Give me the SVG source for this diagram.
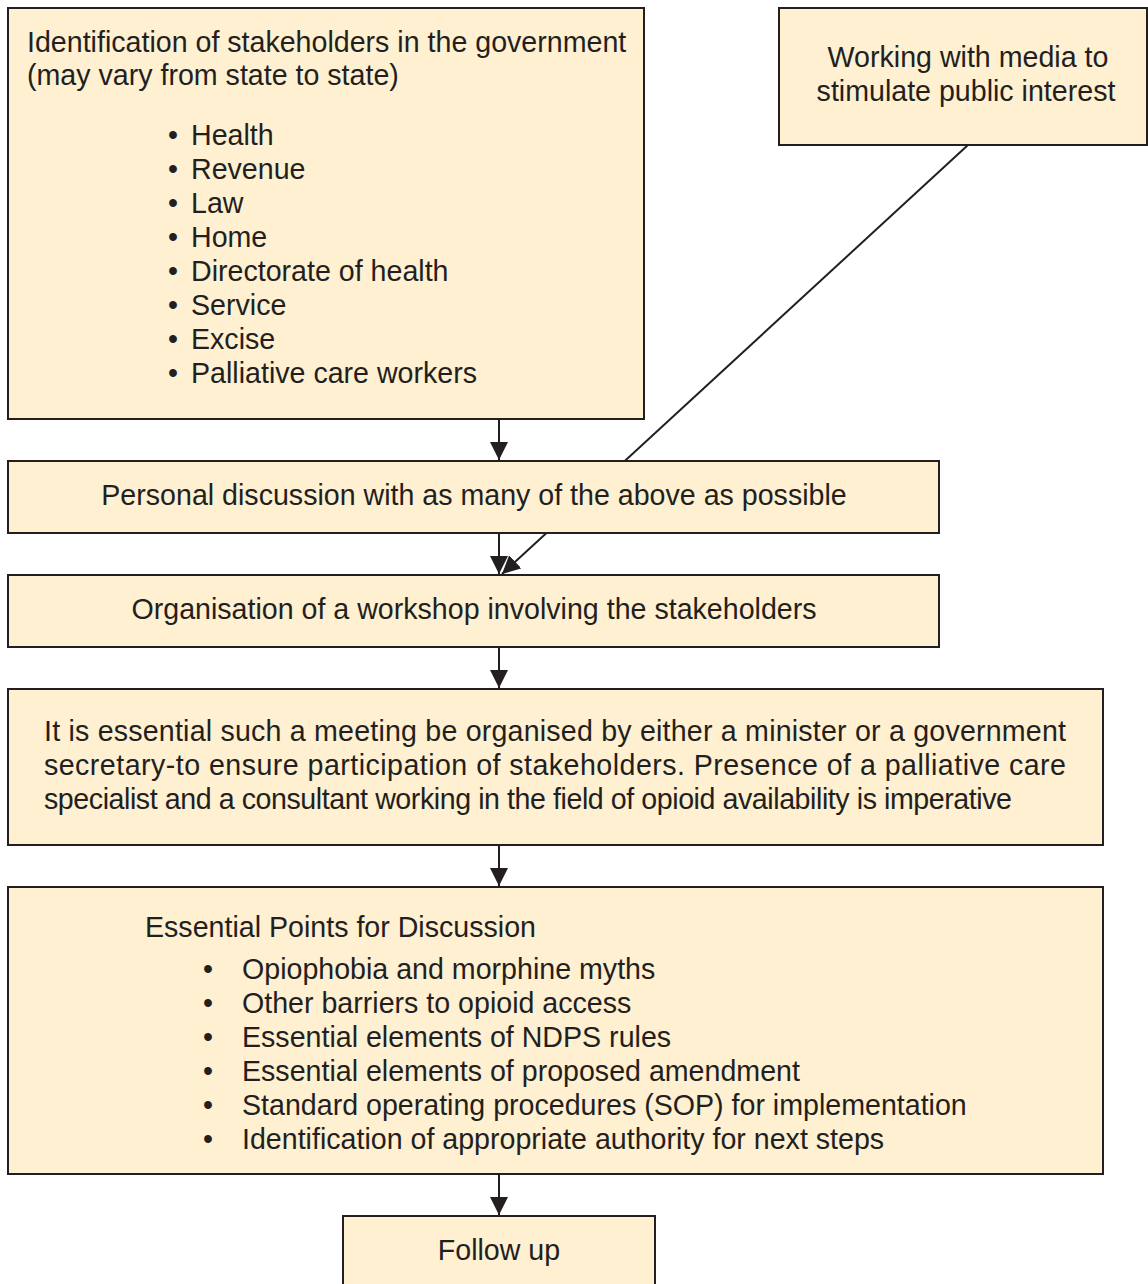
<svg xmlns="http://www.w3.org/2000/svg" width="1148" height="1284" viewBox="0 0 1148 1284">
  <defs>
    <style>
      .box { fill: #FEF0D1; stroke: #231F20; stroke-width: 2; }
      .t { font-family: "Liberation Sans", Arial, sans-serif; font-size: 28.6px; fill: #231F20; }
      .c { text-anchor: middle; }
      .link { stroke: #231F20; stroke-width: 2; fill: none; }
    </style>
    <marker id="arrow" markerWidth="18" markerHeight="20" refX="18" refY="9" orient="auto" markerUnits="userSpaceOnUse">
      <path d="M0,0 L18,9 L0,18 Z" fill="#231F20"/>
    </marker>
  </defs>

  <rect width="1148" height="1284" fill="#FFFFFF"/>

  <!-- connectors (drawn first so the diagonal passes behind the discussion box) -->
  <g id="connectors">
    <line class="link" x1="968" y1="145" x2="502" y2="574" marker-end="url(#arrow)"/>
    <line class="link" x1="499" y1="419" x2="499" y2="460" marker-end="url(#arrow)"/>
    <line class="link" x1="499" y1="533" x2="499" y2="574" marker-end="url(#arrow)"/>
    <line class="link" x1="499" y1="647" x2="499" y2="688" marker-end="url(#arrow)"/>
    <line class="link" x1="499" y1="845" x2="499" y2="886" marker-end="url(#arrow)"/>
    <line class="link" x1="499" y1="1174" x2="499" y2="1215" marker-end="url(#arrow)"/>
  </g>

  <g id="stakeholders">
    <rect class="box" x="8" y="8" width="636" height="411"/>
    <text class="t" x="27" y="52">Identification of stakeholders in the government</text>
    <text class="t" x="27" y="85">(may vary from state to state)</text>
    <text class="t" x="168" y="145">•</text><text class="t" x="191" y="145">Health</text>
    <text class="t" x="168" y="179">•</text><text class="t" x="191" y="179">Revenue</text>
    <text class="t" x="168" y="213">•</text><text class="t" x="191" y="213">Law</text>
    <text class="t" x="168" y="247">•</text><text class="t" x="191" y="247">Home</text>
    <text class="t" x="168" y="281">•</text><text class="t" x="191" y="281">Directorate of health</text>
    <text class="t" x="168" y="315">•</text><text class="t" x="191" y="315">Service</text>
    <text class="t" x="168" y="349">•</text><text class="t" x="191" y="349">Excise</text>
    <text class="t" x="168" y="383">•</text><text class="t" x="191" y="383">Palliative care workers</text>
  </g>

  <g id="media">
    <rect class="box" x="779" y="8" width="368" height="137"/>
    <text class="t c" x="968" y="67">Working with media to</text>
    <text class="t c" x="966" y="101">stimulate public interest</text>
  </g>

  <g id="personal-discussion">
    <rect class="box" x="8" y="461" width="931" height="72"/>
    <text class="t c" x="474" y="505">Personal discussion with as many of the above as possible</text>
  </g>

  <g id="workshop">
    <rect class="box" x="8" y="575" width="931" height="72"/>
    <text class="t c" x="474" y="619">Organisation of a workshop involving the stakeholders</text>
  </g>

  <g id="meeting">
    <rect class="box" x="8" y="689" width="1095" height="156"/>
    <text class="t" x="44" y="741" textLength="1022" lengthAdjust="spacing">It is essential such a meeting be organised by either a minister or a government</text>
    <text class="t" x="44" y="775" textLength="1022" lengthAdjust="spacing">secretary-to ensure participation of stakeholders. Presence of a palliative care</text>
    <text class="t" x="44" y="809" textLength="968" lengthAdjust="spacing">specialist and a consultant working in the field of opioid availability is imperative</text>
  </g>

  <g id="discussion-points">
    <rect class="box" x="8" y="887" width="1095" height="287"/>
    <text class="t" x="145" y="937">Essential Points for Discussion</text>
    <text class="t" x="203" y="979">•</text><text class="t" x="242" y="979">Opiophobia and morphine myths</text>
    <text class="t" x="203" y="1013">•</text><text class="t" x="242" y="1013">Other barriers to opioid access</text>
    <text class="t" x="203" y="1047">•</text><text class="t" x="242" y="1047">Essential elements of NDPS rules</text>
    <text class="t" x="203" y="1081">•</text><text class="t" x="242" y="1081">Essential elements of proposed amendment</text>
    <text class="t" x="203" y="1115">•</text><text class="t" x="242" y="1115">Standard operating procedures (SOP) for implementation</text>
    <text class="t" x="203" y="1149">•</text><text class="t" x="242" y="1149">Identification of appropriate authority for next steps</text>
  </g>

  <g id="follow-up">
    <rect class="box" x="343" y="1216" width="312" height="80"/>
    <text class="t c" x="499" y="1260">Follow up</text>
  </g>
</svg>
